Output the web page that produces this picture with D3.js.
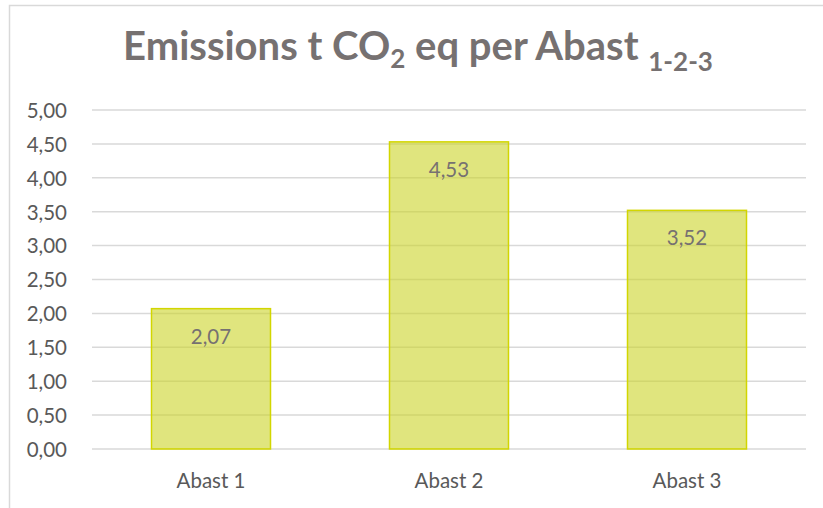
<!DOCTYPE html>
<html>
<head>
<meta charset="utf-8">
<script src="https://cdn.jsdelivr.net/npm/d3@7"></script>
<style>
body { margin: 0; background: #fff; }
svg text { font-family: Lato, "Open Sans", sans-serif; }
</style>
</head>
<body>
<div id="chart"></div>
<script>
// dades del grafic
var categories = ["Abast 1", "Abast 2", "Abast 3"];
var values = [2.07, 4.53, 3.52];
var yTicks = [0, 0.5, 1, 1.5, 2, 2.5, 3, 3.5, 4, 4.5, 5];

var W = 823, H = 508;
var margin = {left: 92, right: 17, top: 110, bottom: 59};

var svg = d3.select("#chart").append("svg").attr("width", W).attr("height", H);

// marc del grafic
svg.append("rect").attr("x", 9.5).attr("y", 5.5).attr("width", W).attr("height", H)
    .attr("fill", "none").attr("stroke", "#d9d9d9").attr("stroke-width", 1.5);

var x = d3.scaleBand().domain(categories).range([margin.left, W - margin.right]).paddingInner(0.5).paddingOuter(0.25);
var y = d3.scaleLinear().domain([0, 5]).range([H - margin.bottom, margin.top]);

var fmt = function(d){ return d3.format(".2f")(d).replace(".", ","); };

// linies de la graella
svg.append("g").selectAll("line").data(yTicks).enter().append("line")
    .attr("x1", margin.left).attr("x2", W - margin.right)
    .attr("y1", function(d){ return y(d); }).attr("y2", function(d){ return y(d); })
    .attr("stroke", "#d9d9d9").attr("stroke-width", 1.5);

var yAxis = svg.append("g").attr("transform", "translate(" + (margin.left - 22) + ",0)")
    .call(d3.axisLeft(y).tickValues(yTicks).tickFormat(fmt).tickSize(0));
yAxis.select(".domain").remove();
yAxis.selectAll("text").attr("fill", "#595959").attr("font-size", "20.5px").attr("dx", 0).attr("dy", "0.36em");

var xAxis = svg.append("g").attr("transform", "translate(0," + (H - margin.bottom) + ")")
    .call(d3.axisBottom(x).tickSize(0));
xAxis.select(".domain").remove();
xAxis.selectAll("text").attr("fill", "#595959").attr("font-size", "20.5px").attr("y", 39).attr("dy", 0);

// barres
svg.append("g").selectAll("rect").data(values).enter().append("rect")
    .attr("x", function(d, i){ return x(categories[i]); })
    .attr("y", function(d){ return y(d); })
    .attr("width", x.bandwidth())
    .attr("height", function(d){ return y(0) - y(d); })
    .attr("fill", "rgba(204,212,40,0.6)")
    .attr("stroke", "#d2d600").attr("stroke-width", 1.5);

// etiquetes de dades
svg.append("g").selectAll("text").data(values).enter().append("text")
    .attr("x", function(d, i){ return x(categories[i]) + x.bandwidth() / 2; })
    .attr("y", function(d){ return y(d) + 35; })
    .attr("text-anchor", "middle").attr("font-size", "20.5px").attr("fill", "#767171")
    .text(fmt);

// titol
var title = svg.append("text").attr("x", 418).attr("y", 60).attr("text-anchor", "middle")
    .attr("font-size", "40px").attr("font-weight", "bold").attr("fill", "#767171");
title.append("tspan").text("Emissions t CO");
title.append("tspan").attr("font-size", "26px").attr("dy", 8).text("2");
title.append("tspan").attr("dy", -8).text(" eq per Abast ");
title.append("tspan").attr("font-size", "26px").attr("dy", 11).text("1-2-3");
</script>
</body>
</html>
